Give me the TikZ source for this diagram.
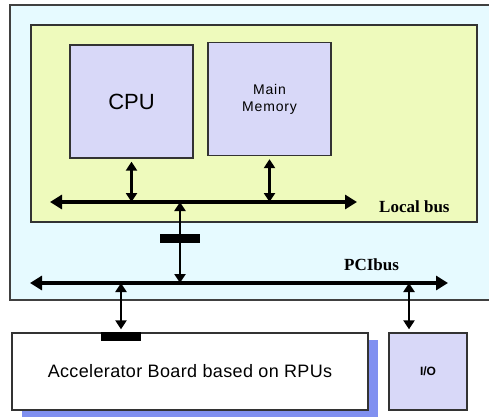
\documentclass[tikz,border=0pt]{standalone}
\usepackage{fontspec}
\setmainfont{Liberation Serif}
\setsansfont{Liberation Sans}
\usetikzlibrary{arrows.meta,shadows}
\definecolor{sysblue}{RGB}{230,250,255}
\definecolor{boardgreen}{RGB}{238,250,188}
\definecolor{unitlilac}{RGB}{216,216,248}
\definecolor{shadeblue}{RGB}{128,144,240}
\tikzset{
  unit/.style={draw=black!80,line width=1.3pt,fill=unitlilac,font=\sffamily,align=center,inner sep=0pt},
  bus/.style={line width=3.4pt,{Triangle[length=12pt,width=14pt]}-{Triangle[length=12pt,width=14pt]}},
  link/.style={line width=2.2pt,{Triangle[length=9pt,width=11pt]}-{Triangle[length=9pt,width=11pt]}},
  bridge/.style={fill=black,minimum width=40pt,minimum height=9pt,inner sep=0pt},
  buslabel/.style={font=\fontsize{17}{17}\selectfont\bfseries}
}
\begin{document}
\begin{tikzpicture}[x=1pt,y=-1pt]
\useasboundingbox (0,0) rectangle (489,417);
\fill[white] (0,0) rectangle (489,417);
% host system
\draw[draw=black!75,line width=1.3pt,fill=sysblue] (10,5) rectangle (492,300);
\draw[draw=black!80,line width=1.3pt,fill=boardgreen] (31,25) rectangle (477,222);
\node[unit,minimum width=123pt,minimum height=113pt,font=\sffamily\fontsize{22}{22}\selectfont] (cpu) at (131.5,101.5) {CPU};
\node[unit,minimum width=123pt,minimum height=113pt,font=\sffamily\fontsize{14}{17}\selectfont\addfontfeature{LetterSpace=6}] (mem) at (269.5,99) {Main\\Memory};
% buses
\coordinate (lbusL) at (50,202);
\coordinate (lbusR) at (357,202);
\coordinate (pbusL) at (30,283);
\coordinate (pbusR) at (448,283);
\draw[bus] (lbusL) -- (lbusR);
\draw[bus] (pbusL) -- (pbusR);
\node[buslabel,anchor=west,inner sep=0pt] (lblabel) at (379,207) {Local bus};
\node[buslabel,anchor=west,inner sep=0pt] (pclabel) at (344,265) {PCIbus};
% bridge between the buses
\coordinate (lbx) at (180,202);
\coordinate (pbx) at (180,283);
\draw[link] (lbx) -- (pbx);
\node[bridge] (br1) at (180,238) {};
\draw[link] ([yshift=-3pt]cpu.south) -- (cpu.south |- lbusL);
\draw[link] ([yshift=-3pt]mem.south) -- (mem.south |- lbusL);
% devices on the PCI bus
\node[unit,fill=white,minimum width=356pt,minimum height=77pt,font=\sffamily\fontsize{18}{18}\selectfont\addfontfeature{LetterSpace=2},
  general shadow={shadow xshift=10pt,shadow yshift=-7pt,fill=shadeblue}] (acc) at (190,371.5) {Accelerator Board based on RPUs};
\node[unit,minimum width=78pt,minimum height=77pt,font=\sffamily\bfseries\fontsize{12}{12}\selectfont] (io) at (428,371.5) {I/O};
\coordinate (accx) at (121,283);
\coordinate (iox) at (409,283);
\draw[link] (accx) -- ([yshift=3pt]acc.north -| accx);
\node[bridge] (br2) at (121,336) {};
\draw[link] (iox) -- ([yshift=3pt]io.north -| iox);
\end{tikzpicture}
\end{document}
